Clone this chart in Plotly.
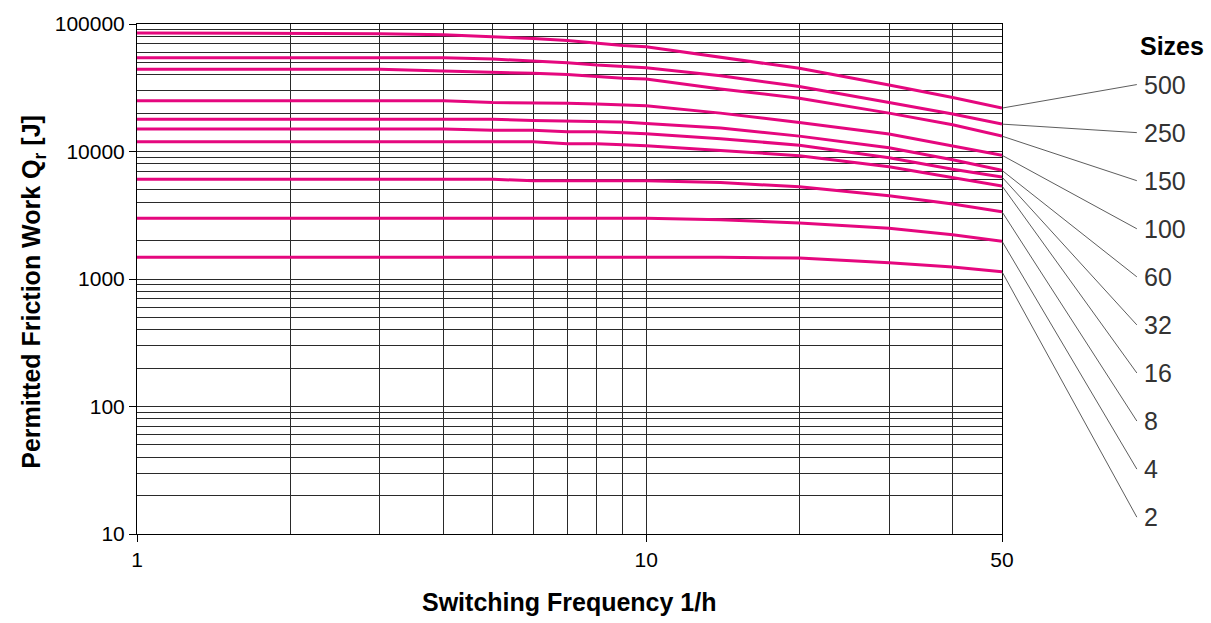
import math
import plotly.graph_objects as go

# ---- data ----
freq = [1, 2, 3, 4, 5, 6, 7, 8, 9, 10, 14, 20, 30, 40, 50]

sizes = ["500", "250", "150", "100", "60", "32", "16", "8", "4", "2"]

q500 = [85100, 85100, 84000, 82500, 79600, 76800, 74100, 70200, 67800, 66200, 54500, 44900, 33200, 26500, 21900]
q250 = [54300, 54300, 54300, 54300, 53100, 51100, 49700, 47600, 46300, 45400, 39300, 32300, 24200, 19700, 16400]
q150 = [44100, 44100, 44100, 42700, 41900, 41000, 40100, 38600, 37500, 37000, 30900, 26200, 20000, 16200, 13200]
q100 = [25000, 25000, 25000, 25000, 24200, 24200, 23900, 23600, 23200, 22800, 20000, 16900, 13700, 11000, 9340]
q60 = [17900, 17900, 17900, 17900, 17900, 17500, 17300, 17300, 17000, 16600, 15300, 13200, 10700, 8620, 7110]
q32 = [15000, 15000, 15000, 15000, 14700, 14700, 14300, 14300, 14000, 13800, 12600, 11200, 8930, 7270, 6300]
q16 = [11900, 11900, 11900, 11900, 11900, 11900, 11500, 11500, 11300, 11100, 10200, 9260, 7600, 6240, 5370]
q8 = [6050, 6050, 6050, 6050, 6050, 5900, 5900, 5900, 5900, 5900, 5710, 5280, 4490, 3870, 3370]
q4 = [2990, 2990, 2990, 2990, 2990, 2990, 2990, 2990, 2990, 2990, 2910, 2750, 2500, 2220, 1980]
q2 = [1480, 1480, 1480, 1480, 1480, 1480, 1480, 1480, 1480, 1480, 1480, 1460, 1340, 1240, 1140]

series = [q500, q250, q150, q100, q60, q32, q16, q8, q4, q2]

x_ticks = [1, 10, 50]
x_minor = [2, 3, 4, 5, 6, 7, 8, 9, 20, 30, 40]
y_ticks = [10, 100, 1000, 10000, 100000]
y_minor = [20, 30, 40, 50, 60, 70, 80, 90,
           200, 300, 400, 500, 600, 700, 800, 900,
           2000, 3000, 4000, 5000, 6000, 7000, 8000, 9000,
           20000, 30000, 40000, 50000, 60000, 70000, 80000, 90000]

# label placement (layout only): label tail x (data units), label y (log units)
label_x = 92.0
label_top = 4.525
label_step = 0.377

FONT = "Liberation Sans, Arial, sans-serif"
PINK = "#E5077E"
GRID = "#2a2a2a"

fig = go.Figure()
for name, vals in zip(sizes, series):
    fig.add_trace(go.Scatter(
        x=freq, y=vals, mode="lines", name=name,
        line=dict(color=PINK, width=3), hoverinfo="skip",
    ))

annotations = []
for i, (name, vals) in enumerate(zip(sizes, series)):
    annotations.append(dict(
        x=math.log10(freq[-1]), y=math.log10(vals[-1]), xref="x", yref="y",
        ax=math.log10(label_x), ay=label_top - i * label_step, axref="x", ayref="y",
        text=name, showarrow=True, arrowhead=0, arrowwidth=0.8, arrowcolor="#333333",
        xanchor="left", yanchor="middle", borderpad=6,
        font=dict(family=FONT, size=25, color="#333333"),
    ))

annotations.append(dict(
    x=(1138 - 137) / 865.0, y=1, xref="paper", yref="paper", text="<b>Sizes</b>",
    showarrow=False, xanchor="left", yanchor="middle", yshift=-22,
    font=dict(family=FONT, size=25, color="#000000"),
))
annotations.append(dict(
    x=0.5, y=0, xref="paper", yref="paper", text="<b>Switching Frequency 1/h</b>",
    showarrow=False, xanchor="center", yanchor="middle", yshift=-68,
    font=dict(family=FONT, size=25, color="#000000"),
))
annotations.append(dict(
    x=0, y=0.475, xref="paper", yref="paper",
    text="<b>Permitted Friction Work Q<sub>r</sub> [J]</b>",
    showarrow=False, textangle=-90, xanchor="center", yanchor="middle", xshift=-104,
    font=dict(family=FONT, size=25, color="#000000"),
))

fig.update_layout(
    width=1211, height=623,
    margin=dict(l=137, r=209, t=20, b=89),
    paper_bgcolor="white", plot_bgcolor="white",
    showlegend=False,
    font=dict(family=FONT, size=21, color="#000000"),
    annotations=annotations,
)

fig.update_xaxes(
    type="log", range=[0, math.log10(50)],
    tickvals=x_ticks, ticktext=[str(v) for v in x_ticks],
    ticks="outside", ticklen=7, tickcolor="#000000", tickwidth=1,
    showgrid=True, gridcolor=GRID, gridwidth=1,
    minor=dict(tickvals=x_minor, showgrid=True, gridcolor=GRID, gridwidth=1, ticks=""),
    showline=True, linecolor="#000000", linewidth=1, mirror=True,
    zeroline=False, tickfont=dict(family=FONT, size=21, color="#000000"),
)
fig.update_yaxes(
    type="log", range=[1, 5],
    tickvals=y_ticks, ticktext=[str(v) for v in y_ticks],
    ticks="outside", ticklen=7, tickcolor="#000000", tickwidth=1,
    showgrid=True, gridcolor=GRID, gridwidth=1,
    minor=dict(tickvals=y_minor, showgrid=True, gridcolor=GRID, gridwidth=1, ticks=""),
    showline=True, linecolor="#000000", linewidth=1, mirror=True,
    zeroline=False, tickfont=dict(family=FONT, size=21, color="#000000"),
)

fig.write_html(
    "out.html",
    config={"displayModeBar": False, "staticPlot": True},
    post_script="document.body.style.margin='0px';",
)
